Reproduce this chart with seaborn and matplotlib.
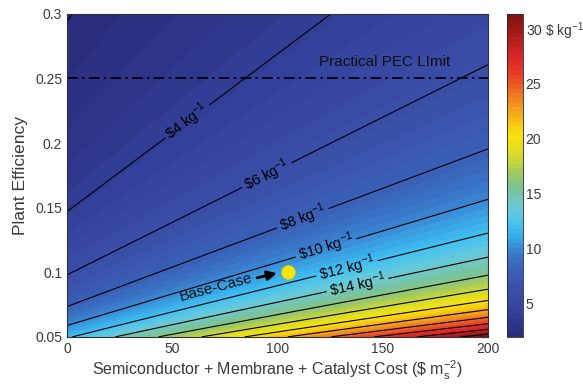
import numpy as np
import matplotlib
matplotlib.use("Agg")
import matplotlib.pyplot as plt
from matplotlib.colors import LinearSegmentedColormap
import seaborn as sns

# ---- data ----
x_cost = np.linspace(0, 200, 201)          # semiconductor + membrane + catalyst cost ($/m2)
efficiency = np.linspace(0.05, 0.30, 251)  # plant efficiency
# H2 cost x efficiency at the two ends of the cost axis (read from contour intercepts)
cost_axis_ends = [0, 200]
cost_times_eff = [0.588, 1.564]
# contour levels and labelled levels
line_levels = [2, 16, 18, 20, 22, 24, 26, 28, 30]
label_levels = [4, 6, 8, 10, 12, 14]
label_positions = [(57, 0.217), (95, 0.175), (112, 0.142), (123, 0.119), (133, 0.103), (138, 0.090)]
base_case_x = [105]
base_case_eff = [0.1]
pec_limit = 0.25
x_ticks = [0, 50, 100, 150, 200]
y_ticks = [0.05, 0.1, 0.15, 0.2, 0.25, 0.3]
y_tick_labels = ["0.05", "0.1", "0.15", "0.2", "0.25", "0.3"]
cbar_ticks = [5, 10, 15, 20, 25, 30]

# colour scale ($/kg value -> colour)
cmap_values = [1.96, 3, 4, 5, 6, 7, 8, 9, 10, 11, 12, 13, 14, 15, 16, 17, 18, 19, 20, 21,
               22, 23, 24, 25, 26, 27, 28, 29, 30, 31.3]
cmap_colors = ["#2a2c7c", "#2e3588", "#333f98", "#3747a2", "#3a4ea8", "#3b56ae",
               "#3a60b6", "#3a70c4", "#3a88d5", "#3aa8e8", "#40bff0", "#5cc8e4",
               "#70c8cc", "#74c4a8", "#88c482", "#a8cc5a", "#c8d638", "#e4dc20",
               "#f6e310", "#f8d012", "#f6b21a", "#f29420", "#ee7424", "#ea5626",
               "#e63a28", "#e02a28", "#cc2424", "#b41e1e", "#9a1818", "#7c1414"]

# ---- style ----
sns.set_style("ticks")
plt.rcParams["font.family"] = ["Liberation Sans", "DejaVu Sans"]
plt.rcParams["mathtext.fontset"] = "custom"
plt.rcParams["mathtext.rm"] = "Liberation Sans"
plt.rcParams["mathtext.it"] = "Liberation Sans"
txt_col = "#3a3a3a"

vmin, vmax = cmap_values[0], cmap_values[-1]
cmap = LinearSegmentedColormap.from_list(
    "h2", [((v - vmin) / (vmax - vmin), c) for v, c in zip(cmap_values, cmap_colors)])

X, Y = np.meshgrid(x_cost, efficiency)
Z = np.interp(X, cost_axis_ends, cost_times_eff) / Y

fig = plt.figure(figsize=(5.83, 3.85), dpi=100)
ax = fig.add_axes([0.115, 0.125, 0.722, 0.839])
cax = fig.add_axes([0.870, 0.125, 0.027, 0.839])

fill_levels = np.linspace(Z.min(), Z.max(), 70)
cf = ax.contourf(X, Y, Z, levels=fill_levels, cmap=cmap, vmin=vmin, vmax=vmax)
ax.contour(X, Y, Z, levels=line_levels, colors="black", linewidths=0.8)
cs_lab = ax.contour(X, Y, Z, levels=label_levels, colors="black", linewidths=0.8)
fmt = {lv: r"\$%d kg$^{-1}$" % lv for lv in label_levels}
ax.clabel(cs_lab, fmt=fmt, manual=label_positions, inline=True,
          fontsize=10.5, colors="black", inline_spacing=3)

ax.axhline(pec_limit, color="black", lw=1.2, ls=(0, (6.5, 2.5, 1.5, 2.5)))
ax.text(151, 0.2625, "Practical PEC LImit", ha="center", va="center", fontsize=11, color="#111111")

sns.scatterplot(x=base_case_x, y=base_case_eff, ax=ax, s=100, color="#f7e40f",
                edgecolor="#d8c800", linewidth=0.5, zorder=5, legend=False)
ax.annotate("", xy=(101, 0.0998), xytext=(89, 0.0952),
            arrowprops=dict(arrowstyle="-|>", color="black", lw=2.0, mutation_scale=14))
ax.text(71, 0.0885, "Base-Case", rotation=15, ha="center", va="center",
        fontsize=11, color="#111111", rotation_mode="anchor")

ax.set_xlim(0, 200)
ax.set_ylim(0.05, 0.3)
ax.set_xticks(x_ticks)
ax.set_yticks(y_ticks)
ax.set_yticklabels(y_tick_labels)
ax.tick_params(direction="in", length=4, width=0.8, top=True, right=True,
               labelsize=10, labelcolor=txt_col, color="#333333")
for s in ax.spines.values():
    s.set_color("#333333")
    s.set_linewidth(0.8)
ax.set_xlabel(r"Semiconductor + Membrane + Catalyst Cost (\$ m$_s^{-2}$)", fontsize=11.5,
              color=txt_col, labelpad=2)
ax.set_ylabel("Plant Efficiency", fontsize=12.6, color=txt_col, labelpad=5)

cb = fig.colorbar(cf, cax=cax, ticks=cbar_ticks)
cb.ax.set_yticklabels([str(t) for t in cbar_ticks[:-1]] + [r"30 \$ kg$^{-1}$"])
cb.ax.tick_params(direction="in", length=3, width=0.8, labelsize=10, labelcolor=txt_col,
                  color="#333333", pad=2)
cb.outline.set_linewidth(0.6)

fig.savefig("out.png", dpi=100)
